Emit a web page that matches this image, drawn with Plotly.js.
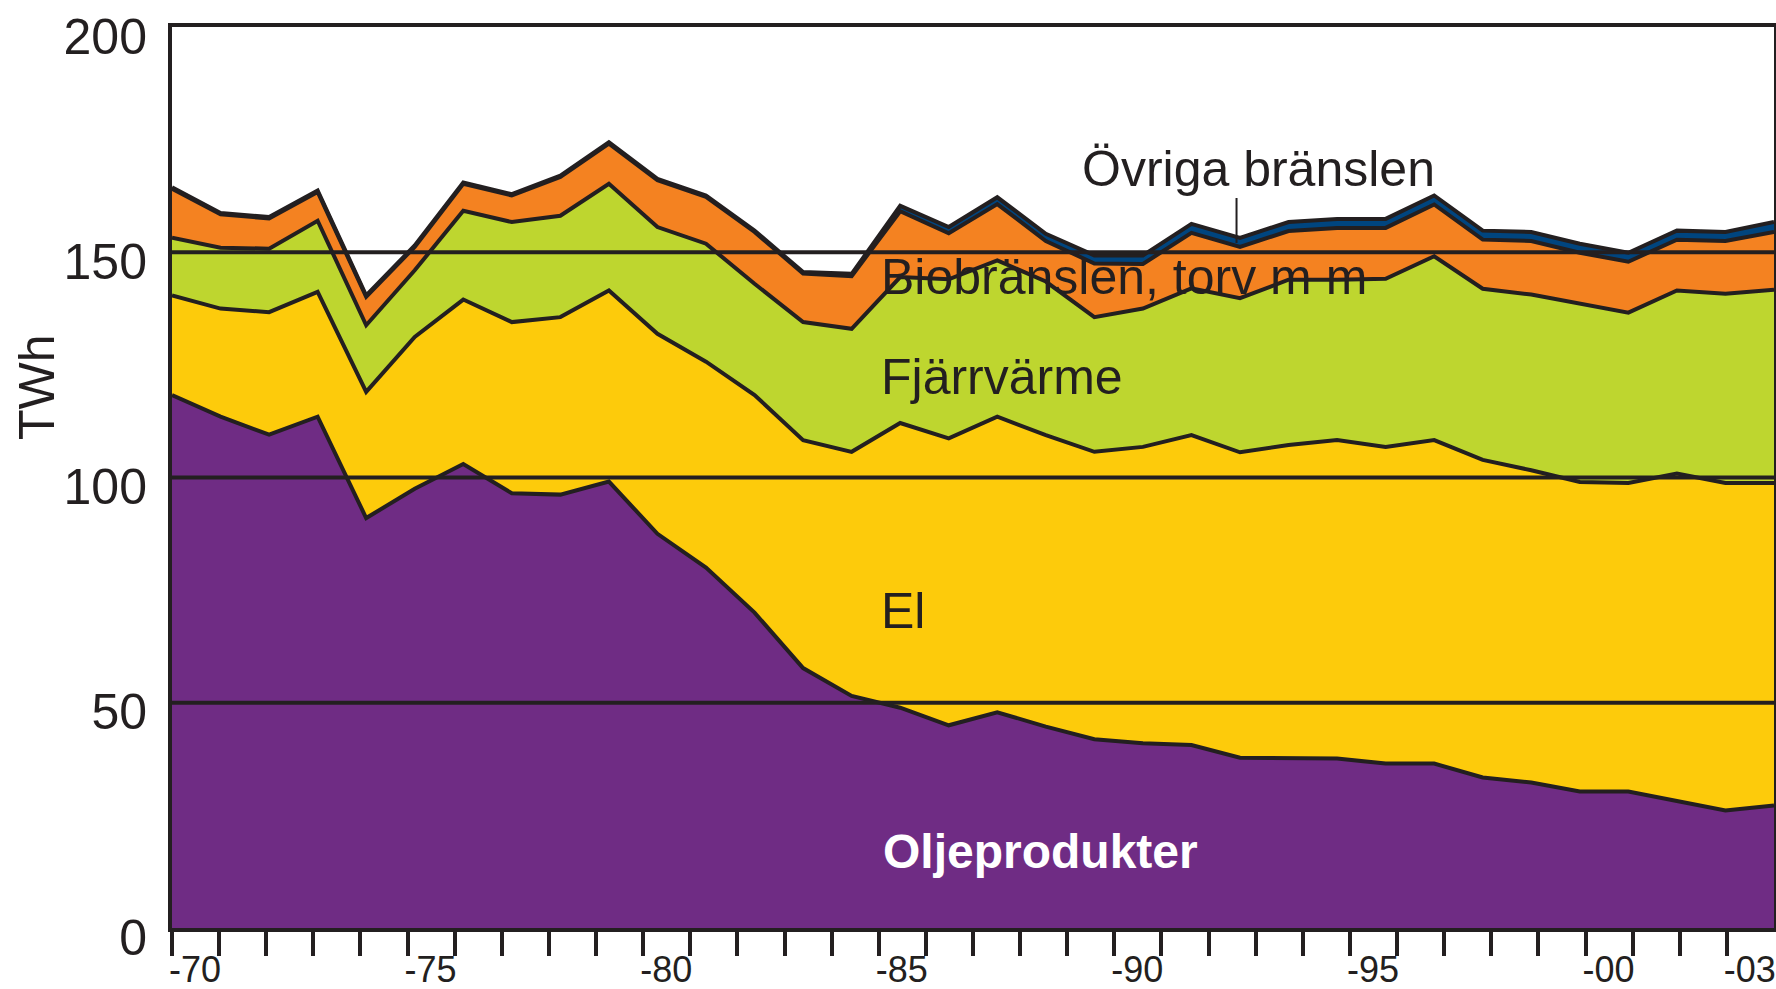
<!DOCTYPE html>
<html>
<head>
<meta charset="utf-8">
<script src="https://cdn.plot.ly/plotly-3.0.1.min.js"></script>
<style>
  html, body { margin: 0; padding: 0; background: #ffffff; }
  #chart { width: 1776px; height: 989px; }
</style>
</head>
<body>
<div id="chart"></div>
<script>
// ---- Data (TWh) ----
const years = [1970,1971,1972,1973,1974,1975,1976,1977,1978,1979,
               1980,1981,1982,1983,1984,1985,1986,1987,1988,1989,
               1990,1991,1992,1993,1994,1995,1996,1997,1998,1999,
               2000,2001,2002,2003];

const oljeprodukter = [118.3,113.5,109.5,113.5,91.0,97.5,103.0,96.5,96.2,99.1,
                       87.5,80.0,70.0,57.7,51.5,48.9,45.0,47.9,44.7,41.9,
                       41.0,40.6,37.8,37.6,37.6,36.5,36.5,33.4,32.3,30.3,
                       30.3,28.2,26.1,27.2];

const el = [22.1,24.0,27.2,27.7,28.0,33.7,36.5,38.0,39.4,42.4,
            44.4,45.7,48.3,50.6,54.2,63.2,63.7,65.6,64.7,63.8,
            65.8,68.8,67.8,69.6,70.7,70.3,71.8,70.5,69.3,68.7,
            68.5,72.7,72.7,71.6];

const fjarrvarme = [12.8,13.5,14.1,15.8,14.8,14.8,19.7,22.2,22.5,23.7,
                    23.7,26.2,24.7,26.2,27.3,32.4,35.3,34.7,34.1,29.9,
                    30.7,32.6,34.2,36.7,35.6,37.3,40.8,38.0,39.0,39.6,
                    37.8,40.6,42.0,42.9];

const biobranslen = [10.9,7.4,6.7,6.4,6.3,5.2,6.0,5.9,8.6,8.9,
                     10.4,10.4,11.5,10.8,11.7,14.6,10.2,12.5,9.0,11.9,
                     9.9,12.3,11.4,10.8,11.5,11.3,11.5,10.9,11.9,11.3,
                     11.3,11.3,11.7,12.8];

const ovriga = [0.3,0.3,0.3,0.3,0.3,0.3,0.3,0.3,0.3,0.3,
                0.3,0.3,0.3,0.3,0.5,1.2,1.4,1.5,1.6,1.8,
                1.9,2.0,2.0,2.0,2.0,2.0,2.0,2.0,2.0,2.0,
                2.0,2.0,2.0,2.2];

const yTicks = [0, 50, 100, 150, 200];

// Tick marks of the original are spaced for 34 intervals across the same width
const tickYears = years;
const tickLabels = ["-70","","","","","-75","","","","",
                    "-80","","","","","-85","","","","",
                    "-90","","","","","-95","","","","",
                    "-00","","","-03"];
const tickPos = tickYears.map(y => 1970 + (y - 1970) * 33 / 34);

const INK = '#231f20';
const FONT = 'Liberation Sans, Arial, Helvetica, sans-serif';

function area(name, values, color) {
  return {
    type: 'scatter', mode: 'lines', name: name,
    x: years, y: values, stackgroup: 'one',
    line: { color: INK, width: 4, shape: 'linear' },
    fillcolor: color, hoverinfo: 'skip'
  };
}

const traces = [
  area('Oljeprodukter', oljeprodukter, '#6f2c84'),
  area('El', el, '#fdcb0b'),
  area('Fjärrvärme', fjarrvarme, '#bed62f'),
  area('Biobränslen, torv m m', biobranslen, '#f48221'),
  area('Övriga bränslen', ovriga, '#00457f')
];

const gridVals = [50, 100, 150];
const shapes = gridVals.map(v => ({
  type: 'line', xref: 'paper', yref: 'y', x0: 0, x1: 1, y0: v, y1: v,
  line: { color: INK, width: 4 }, layer: 'above'
}));
// pointer from the "Övriga bränslen" label
shapes.push({
  type: 'line', xref: 'paper', yref: 'paper', x0: 0.6645, x1: 0.6645, y0: 0.8102, y1: 0.7603,
  line: { color: INK, width: 2 }, layer: 'above'
});

function label(text, x, y, color, size, bold) {
  return {
    text: bold ? '<b>' + text + '</b>' : text,
    xref: 'paper', yref: 'paper', x: x, y: y,
    xanchor: 'left', yanchor: 'middle', showarrow: false,
    font: { family: FONT, size: size, color: color }
  };
}

const annotations = [
  label('Övriga bränslen', 0.5668, 0.8424, INK, 50, false),
  label('Biobränslen, torv m m', 0.4413, 0.7225, INK, 50, false),
  label('Fjärrvärme', 0.4413, 0.6119, INK, 50, false),
  label('El', 0.4413, 0.3513, INK, 50, false),
  label('Oljeprodukter', 0.4425, 0.0847, '#ffffff', 48, true),
  {
    text: 'TWh', xref: 'paper', yref: 'paper', x: -0.0843, y: 0.6004,
    xanchor: 'center', yanchor: 'middle', showarrow: false, textangle: -90,
    font: { family: FONT, size: 50, color: INK }
  }
];

const layout = {
  width: 1776, height: 989,
  margin: { l: 172, r: 2, t: 27, b: 61, pad: 0 },
  paper_bgcolor: '#ffffff', plot_bgcolor: '#ffffff',
  showlegend: false,
  font: { family: FONT, color: INK },
  xaxis: {
    range: [1970, 2003], showgrid: false, zeroline: false,
    showline: true, linecolor: INK, linewidth: 4, mirror: true,
    tickmode: 'array', tickvals: tickPos, ticktext: tickLabels,
    ticks: 'outside', ticklen: 24, tickwidth: 4, tickcolor: INK,
    tickfont: { family: FONT, size: 36, color: INK },
    ticklabelshift: 23, ticklabelstandoff: -17, ticklabeloverflow: 'allow',
    layer: 'above traces', fixedrange: true
  },
  yaxis: {
    range: [0, 200], tickmode: 'array', tickvals: yTicks,
    showgrid: false, zeroline: false,
    showline: true, linecolor: INK, linewidth: 4, mirror: true,
    ticks: '', tickfont: { family: FONT, size: 50, color: INK },
    ticklabelstandoff: 11, ticklabelshift: 9,
    layer: 'above traces', fixedrange: true
  },
  shapes: shapes,
  annotations: annotations
};

Plotly.newPlot('chart', traces, layout, { staticPlot: true, displayModeBar: false });
</script>
</body>
</html>
